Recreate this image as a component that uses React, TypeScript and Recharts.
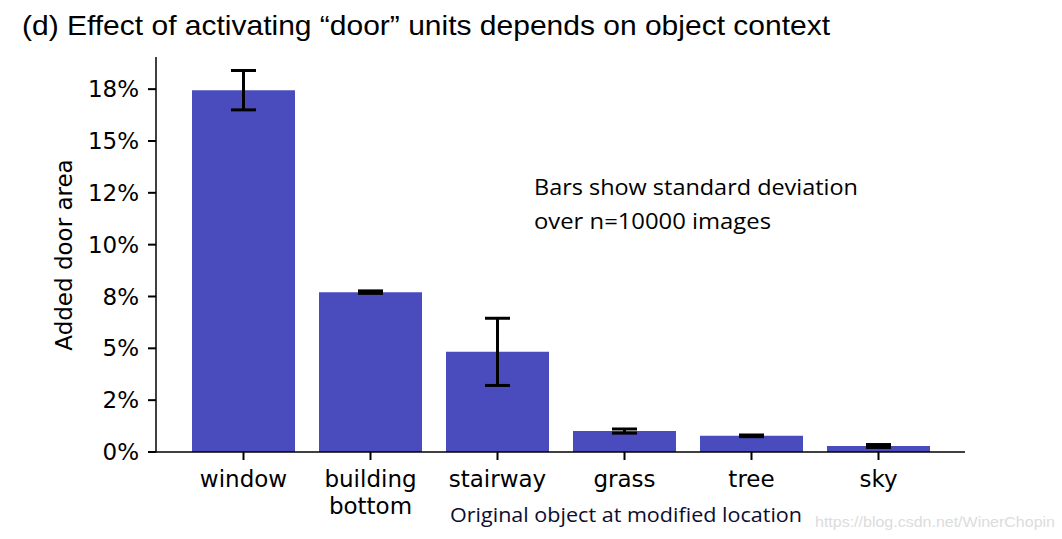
import { BarChart, Bar, XAxis, YAxis, ErrorBar } from 'recharts'

const categories = ['window', 'building\nbottom', 'stairway', 'grass', 'tree', 'sky']
const meanArea = [17.45, 7.71, 4.83, 1.01, 0.78, 0.29]
const stdArea = [0.95, 0.06, 1.62, 0.1, 0.04, 0.07]
const yTicks = [0, 2.5, 5, 7.5, 10, 12.5, 15, 17.5]
const yTickLabels = ['0%', '2%', '5%', '8%', '10%', '12%', '15%', '18%']

const data = categories.map((name, i) => ({ name, mean: meanArea[i], err: stdArea[i] }))

const BAR_COLOR = '#4a4cbe'
const TICK_FONT = 'DejaVu Sans, sans-serif'

function CategoryTick({ x, y, payload }: any) {
  const lines = String(payload.value).split('\n')
  return (
    <text x={x} y={y} textAnchor="middle" fontFamily={TICK_FONT} fontSize={23} fill="#000">
      {lines.map((line, i) => (
        <tspan key={i} x={x} dy={i === 0 ? 25 : 27}>
          {line}
        </tspan>
      ))}
    </text>
  )
}

export default function App() {
  return (
    <div style={{ position: 'absolute', left: 0, top: 0, width: 1062, height: 539, background: '#fff' }}>
      <BarChart
        width={1062}
        height={539}
        data={data}
        margin={{ top: 57, right: 97, bottom: 57, left: 96 }}
      >
        <XAxis
          dataKey="name"
          height={30}
          interval={0}
          padding={{ left: 24, right: 23 }}
          axisLine={{ stroke: '#000', strokeWidth: 1.5 }}
          tickLine={{ stroke: '#000', strokeWidth: 2 }}
          tickSize={8}
          tick={<CategoryTick />}
        />
        <YAxis
          width={60}
          domain={[0, 19.05]}
          ticks={yTicks}
          interval={0}
          allowDataOverflow
          axisLine={{ stroke: '#000', strokeWidth: 1.5 }}
          tickLine={{ stroke: '#000', strokeWidth: 2 }}
          tickSize={8}
          tickMargin={9}
          tick={{ fill: '#000', fontSize: 23, fontFamily: TICK_FONT }}
          tickFormatter={(v: number) => yTickLabels[yTicks.indexOf(v)] ?? ''}
        />
        <Bar dataKey="mean" fill={BAR_COLOR} barSize={103} isAnimationActive={false}>
          <ErrorBar
            dataKey="err"
            direction="y"
            width={12.5}
            stroke="#000"
            strokeWidth={3}
            isAnimationActive={false}
          />
        </Bar>
      </BarChart>
      <svg
        width={1062}
        height={539}
        style={{ position: 'absolute', left: 0, top: 0, pointerEvents: 'none' }}
      >
        <text
          x={22}
          y={35}
          fontFamily="Liberation Sans, Arial, sans-serif"
          fontSize={28}
          fill="#000"
          textLength={808}
          lengthAdjust="spacingAndGlyphs"
        >
          (d) Effect of activating “door” units depends on object context
        </text>
        <text
          x={72}
          y={255}
          transform="rotate(-90 72 255)"
          textAnchor="middle"
          fontFamily={TICK_FONT}
          fontSize={23}
          fill="#000"
        >
          Added door area
        </text>
        <text
          x={534}
          y={195}
          fontFamily="Open Sans, Noto Sans, sans-serif"
          fontSize={22}
          fill="#000"
          textLength={324}
          lengthAdjust="spacingAndGlyphs"
        >
          Bars show standard deviation
        </text>
        <text
          x={534}
          y={229}
          fontFamily="Open Sans, Noto Sans, sans-serif"
          fontSize={22}
          fill="#000"
          textLength={237}
          lengthAdjust="spacingAndGlyphs"
        >
          over n=10000 images
        </text>
        <text
          x={450}
          y={522}
          fontFamily="Open Sans, Noto Sans, sans-serif"
          fontSize={20}
          fill="#0d0d2e"
          textLength={352}
          lengthAdjust="spacingAndGlyphs"
        >
          Original object at modified location
        </text>
        <text
          x={815}
          y={527}
          fontFamily="Liberation Sans, Arial, sans-serif"
          fontSize={15}
          fill="#dcdcdc"
          textLength={240}
          lengthAdjust="spacingAndGlyphs"
        >
          https://blog.csdn.net/WinerChopin
        </text>
      </svg>
    </div>
  )
}
